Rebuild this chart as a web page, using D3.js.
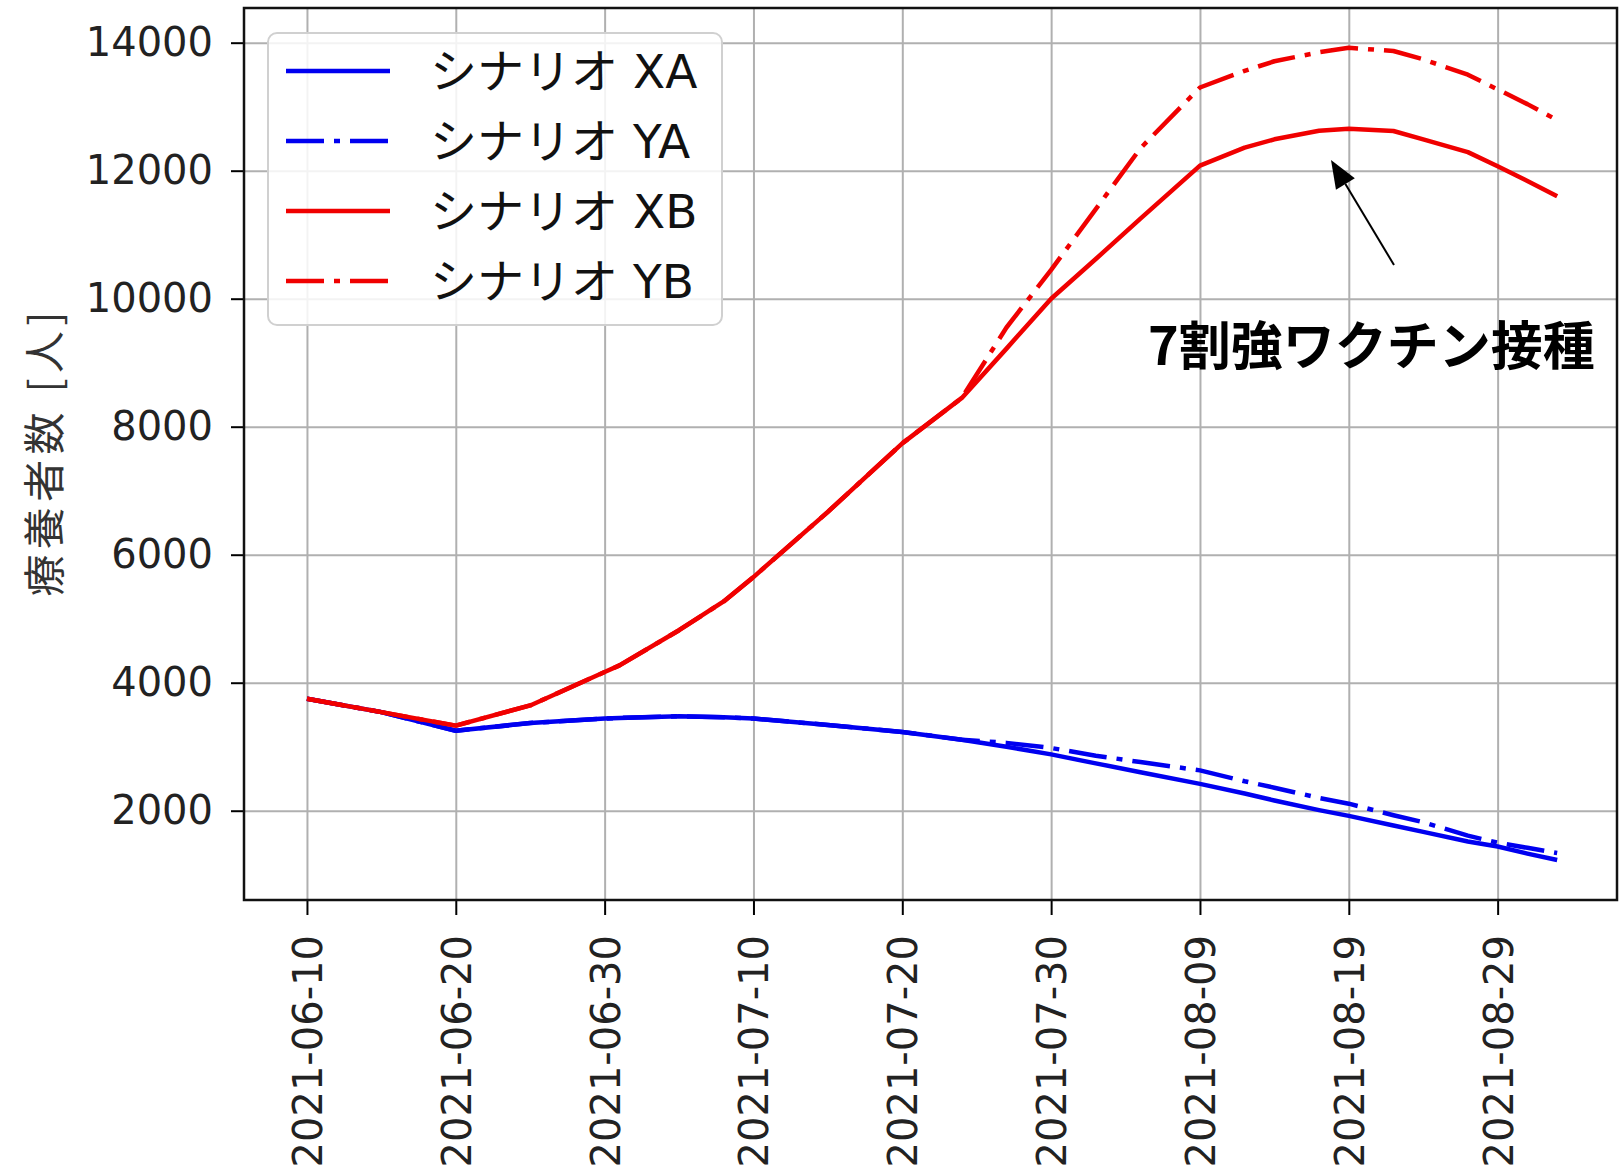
<!DOCTYPE html>
<html>
<head>
<meta charset="utf-8">
<script src="https://cdnjs.cloudflare.com/ajax/libs/d3/7.8.5/d3.min.js"></script>
<style>
  body { margin: 0; background: #fff; }
</style>
</head>
<body>
<div id="chart"></div>
<script>
// data
var dates = ["2021-06-10", "2021-06-15", "2021-06-20", "2021-06-25", "2021-06-30", "2021-07-01",
    "2021-07-05", "2021-07-08", "2021-07-10", "2021-07-15", "2021-07-20", "2021-07-24",
    "2021-07-27", "2021-07-30", "2021-08-02", "2021-08-05", "2021-08-09", "2021-08-12",
    "2021-08-14", "2021-08-17", "2021-08-19", "2021-08-22", "2021-08-24", "2021-08-27",
    "2021-08-29", "2021-08-31", "2021-09-02"];
var xa = [3750, 3540, 3250, 3370, 3440, 3450, 3475, 3460, 3440, 3340, 3230, 3110,
    3000, 2880, 2740, 2600, 2420, 2270, 2160, 2010, 1920, 1770, 1670, 1520, 1440, 1330, 1230];
var ya = [3750, 3540, 3250, 3370, 3440, 3450, 3475, 3460, 3440, 3340, 3230, 3110,
    3060, 2980, 2860, 2760, 2630, 2460, 2360, 2200, 2110, 1930, 1820, 1610, 1500, 1420, 1340];
var xb = [3750, 3540, 3330, 3645, 4167, 4270, 4820, 5270, 5650, 6670, 7740, 8450,
    9220, 10000, 10620, 11250, 12080, 12360, 12490, 12625, 12655, 12620, 12490, 12290, 12070, 11840, 11600];
var yb = [3750, 3540, 3330, 3645, 4167, 4270, 4820, 5270, 5650, 6670, 7740, 8450,
    9550, 10450, 11400, 12350, 13300, 13560, 13710, 13850, 13920, 13870, 13740, 13500, 13270, 13040, 12790];
var seriesNames = ["シナリオ XA", "シナリオ YA", "シナリオ XB", "シナリオ YB"];
var xTicks = ["2021-06-10", "2021-06-20", "2021-06-30", "2021-07-10", "2021-07-20",
    "2021-07-30", "2021-08-09", "2021-08-19", "2021-08-29"];
var yTicks = [2000, 4000, 6000, 8000, 10000, 12000, 14000];
var yLabel = "療養者数 [人]";
var noteText = "7割強ワクチン接種";

var W = 1623, H = 1171;
var plotL = 244, plotR = 1617, plotT = 8, plotB = 900;
var DAY = 864e5;
var parse = d3.timeParse("%Y-%m-%d");

var svg = d3.select("#chart").append("svg")
    .attr("width", W)
    .attr("height", H);

var x = d3.scaleTime()
    .domain([new Date(parse("2021-06-10").getTime() - 4.23 * DAY),
             new Date(parse("2021-08-29").getTime() + 8.02 * DAY)])
    .range([plotL, plotR]);
var y = d3.scaleLinear()
    .domain([605, 14542])
    .range([plotB, plotT]);

// grid
svg.append("g")
    .attr("transform", "translate(0," + plotB + ")")
    .call(d3.axisBottom(x).tickValues(xTicks.map(parse)).tickSize(-(plotB - plotT)).tickFormat(""))
    .call(function (g) {
        g.select(".domain").remove();
        g.selectAll("line").attr("stroke", "#b0b0b0").attr("stroke-width", 2);
    });
svg.append("g")
    .attr("transform", "translate(" + plotL + ",0)")
    .call(d3.axisLeft(y).tickValues(yTicks).tickSize(-(plotR - plotL)).tickFormat(""))
    .call(function (g) {
        g.select(".domain").remove();
        g.selectAll("line").attr("stroke", "#b0b0b0").attr("stroke-width", 2);
    });

// lines
var dashDot = "38,10,6,10";
var series = [
    { name: seriesNames[0], values: xa, color: "#0000f0", dash: null },
    { name: seriesNames[1], values: ya, color: "#0000f0", dash: dashDot },
    { name: seriesNames[2], values: xb, color: "#f00000", dash: null },
    { name: seriesNames[3], values: yb, color: "#f00000", dash: dashDot }
];
var line = d3.line()
    .x(function (d) { return x(d.date); })
    .y(function (d) { return y(d.v); });

series.forEach(function (s) {
    var pts = dates.map(function (d, i) { return { date: parse(d), v: s.values[i] }; });
    svg.append("path")
        .datum(pts)
        .attr("d", line)
        .attr("fill", "none")
        .attr("stroke", s.color)
        .attr("stroke-width", 4.5)
        .attr("stroke-linejoin", "round")
        .attr("stroke-dasharray", s.dash);
});

// axes
var xAxis = svg.append("g")
    .attr("transform", "translate(0," + plotB + ")")
    .call(d3.axisBottom(x).tickValues(xTicks.map(parse)).tickSize(15).tickFormat(d3.timeFormat("%Y-%m-%d")));
xAxis.select(".domain").remove();
xAxis.selectAll("line").attr("stroke", "#000").attr("stroke-width", 2);
xAxis.selectAll("text")
    .attr("transform", "rotate(-90)")
    .attr("x", -35)
    .attr("y", 0)
    .attr("dy", "0.36em")
    .style("text-anchor", "end")
    .style("font-family", "DejaVu Sans")
    .style("font-size", "40px")
    .style("fill", "#222");

var yAxis = svg.append("g")
    .attr("transform", "translate(" + plotL + ",0)")
    .call(d3.axisLeft(y).tickValues(yTicks).tickSize(13).tickPadding(18).tickFormat(d3.format("d")));
yAxis.select(".domain").remove();
yAxis.selectAll("line").attr("stroke", "#000").attr("stroke-width", 2);
yAxis.selectAll("text")
    .style("font-family", "DejaVu Sans")
    .style("font-size", "40px")
    .style("fill", "#222");

svg.append("text")
    .attr("transform", "translate(45," + ((plotT + plotB) / 2) + ") rotate(-90)")
    .attr("text-anchor", "middle")
    .attr("dy", "0.35em")
    .attr("textLength", 285)
    .attr("lengthAdjust", "spacing")
    .style("font-family", "'Noto Sans CJK JP'")
    .style("font-size", "42px")
    .style("fill", "#333")
    .text(yLabel);

// frame
svg.append("rect")
    .attr("x", plotL).attr("y", plotT)
    .attr("width", plotR - plotL).attr("height", plotB - plotT)
    .attr("fill", "none")
    .attr("stroke", "#111")
    .attr("stroke-width", 2.5);

// legend
var lg = svg.append("g");
lg.append("rect")
    .attr("x", 268).attr("y", 33)
    .attr("width", 454).attr("height", 292)
    .attr("rx", 9)
    .attr("fill", "#fff").attr("fill-opacity", 0.85)
    .attr("stroke", "#d0d0d0").attr("stroke-width", 2);
series.forEach(function (s, i) {
    var ly = 71 + i * 70;
    lg.append("line")
        .attr("x1", 286).attr("x2", 390)
        .attr("y1", ly).attr("y2", ly)
        .attr("stroke", s.color)
        .attr("stroke-width", 4.5)
        .attr("stroke-dasharray", s.dash);
    lg.append("text")
        .attr("x", 430).attr("y", ly)
        .attr("dy", "0.36em")
        .style("font-family", "'DejaVu Sans', 'Noto Sans CJK JP'")
        .style("font-size", "47px")
        .style("fill", "#111")
        .text(s.name);
});

// annotation
var tail = [1394, 265], tip = [1331, 160];
var ang = Math.atan2(tip[1] - tail[1], tip[0] - tail[0]);
var hl = 28, hw = 11;
var bx = tip[0] - hl * Math.cos(ang), by = tip[1] - hl * Math.sin(ang);
svg.append("line")
    .attr("x1", tail[0]).attr("y1", tail[1])
    .attr("x2", bx).attr("y2", by)
    .attr("stroke", "#000").attr("stroke-width", 2);
svg.append("path")
    .attr("d", "M" + tip[0] + "," + tip[1] +
        "L" + (bx + hw * Math.sin(ang)) + "," + (by - hw * Math.cos(ang)) +
        "L" + (bx - hw * Math.sin(ang)) + "," + (by + hw * Math.cos(ang)) + "Z")
    .attr("fill", "#000");

svg.append("text")
    .attr("x", 1148).attr("y", 365)
    .style("font-family", "'Noto Sans CJK JP'")
    .style("font-weight", "bold")
    .style("font-size", "52px")
    .style("fill", "#000")
    .text(noteText);
</script>
</body>
</html>
